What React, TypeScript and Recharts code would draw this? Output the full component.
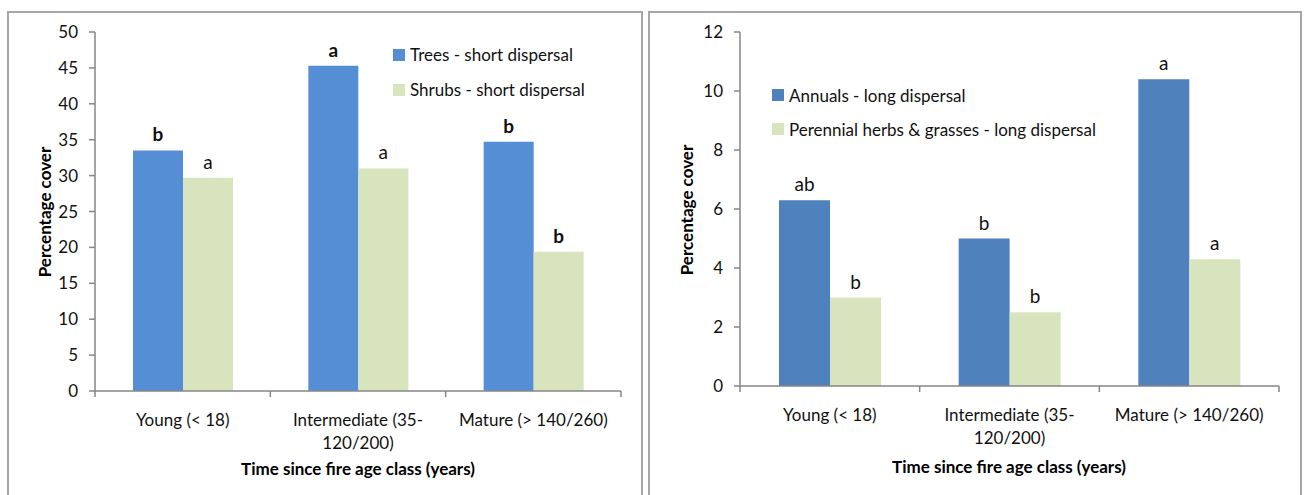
import React from "react";
import { BarChart, Bar, XAxis, YAxis, LabelList } from "recharts";

// age classes (x axis), split where the original wraps
const ageLabels = [["Young (< 18)"], ["Intermediate (35-", "120/200)"], ["Mature (> 140/260)"]];
const ageKeys = ["Young", "Intermediate", "Mature"];

// left panel: short dispersal
const treesShort = [33.5, 45.3, 34.7];
const shrubsShort = [29.7, 31.0, 19.4];
const treesLetters = ["b", "a", "b"];
const shrubsLetters = ["a", "a", "b"];
const treesBold = [true, true, true];
const shrubsBold = [false, false, true];
const shortTicks = [0, 5, 10, 15, 20, 25, 30, 35, 40, 45, 50];

// right panel: long dispersal
const annualsLong = [6.3, 5.0, 10.4];
const perennialLong = [3.0, 2.5, 4.3];
const annualsLetters = ["ab", "b", "a"];
const perennialLetters = ["b", "b", "a"];
const longTicks = [0, 2, 4, 6, 8, 10, 12];

const FONT = "Lato, 'Open Sans', sans-serif";
const AXIS = "#868686";
const TEXT = "#111";

const shortData = ageKeys.map((k, i) => ({ age: k, trees: treesShort[i], shrubs: shrubsShort[i] }));
const longData = ageKeys.map((k, i) => ({ age: k, annuals: annualsLong[i], perennial: perennialLong[i] }));

const CategoryTick = (props: any) => {
  const { x, y, payload, index, visibleTicksCount } = props;
  const half = payload.offset ?? 0;
  const lines = ageLabels[index] || [payload.value];
  const last = index === visibleTicksCount - 1;
  return (
    <g>
      <line x1={x - half} x2={x - half} y1={y} y2={y + 6} stroke={AXIS} strokeWidth={1.5} />
      {last && <line x1={x + half} x2={x + half} y1={y} y2={y + 6} stroke={AXIS} strokeWidth={1.5} />}
      {lines.map((l: string, i: number) => (
        <text key={i} x={x} y={y + 35 + i * 23} textAnchor="middle" fill={TEXT} fontSize={17} fontFamily={FONT}>
          {l}
        </text>
      ))}
    </g>
  );
};

const letterContent = (letters: string[], bold: boolean[] | null, size: number) => (p: any) => {
  const { x, y, width, index } = p;
  return (
    <text
      x={x + width / 2}
      y={y - 9}
      textAnchor="middle"
      fill={TEXT}
      fontSize={size}
      fontWeight={bold && bold[index] ? 700 : 400}
      fontFamily={FONT}
    >
      {letters[index]}
    </text>
  );
};

const ChartLegend = ({ items, left, top, gap }: { items: { label: string; color: string }[]; left: number; top: number; gap: number }) => (
  <div style={{ position: "absolute", left, top, fontFamily: FONT, fontSize: 17, color: TEXT, whiteSpace: "nowrap" }}>
    {items.map((it) => (
      <div key={it.label} style={{ display: "flex", alignItems: "center", height: gap }}>
        <span style={{ width: 12, height: 12, background: it.color, marginRight: 5, display: "inline-block" }} />
        <span>{it.label}</span>
      </div>
    ))}
  </div>
);

const panelStyle = (left: number, width: number): React.CSSProperties => ({
  position: "absolute",
  left,
  top: 11,
  width,
  height: 500,
  border: "2px solid #a6a6a6",
  boxSizing: "border-box",
});

const titleStyle: React.CSSProperties = {
  position: "absolute",
  fontFamily: FONT,
  fontWeight: 700,
  fontSize: 17,
  color: "#000",
  whiteSpace: "nowrap",
};

const yTick = { fill: TEXT, fontSize: 17, fontFamily: FONT };

export default function App() {
  return (
    <div style={{ position: "fixed", left: 0, top: 0, width: 1304, height: 495, background: "#fff", overflow: "hidden" }}>
      <div style={panelStyle(7, 636)} />
      <div style={panelStyle(648, 654)} />

      <div style={{ position: "absolute", left: 0, top: 0 }}>
        <BarChart width={650} height={495} data={shortData} margin={{ top: 32, right: 29, bottom: 74, left: 35 }} barGap={0} barSize={50}>
          <XAxis dataKey="age" height={30} axisLine={{ stroke: AXIS, strokeWidth: 1.5 }} tickLine={false} tickSize={0} tickMargin={0} tick={<CategoryTick />} interval={0} />
          <YAxis
            width={60}
            domain={[0, 50]}
            ticks={shortTicks}
            interval={0}
            axisLine={{ stroke: AXIS, strokeWidth: 1.5 }}
            tickLine={{ stroke: AXIS, strokeWidth: 1.5 }}
            tickSize={6}
            tickMargin={11}
            tick={yTick}
          />
          <Bar dataKey="trees" fill="#558ED5" isAnimationActive={false}>
            <LabelList content={letterContent(treesLetters, treesBold, 19)} />
          </Bar>
          <Bar dataKey="shrubs" fill="#D7E4BD" isAnimationActive={false}>
            <LabelList content={letterContent(shrubsLetters, shrubsBold, 19)} />
          </Bar>
        </BarChart>
        <ChartLegend
          left={393}
          top={37}
          gap={35}
          items={[
            { label: "Trees - short dispersal", color: "#558ED5" },
            { label: "Shrubs - short dispersal", color: "#D7E4BD" },
          ]}
        />
        <div style={{ ...titleStyle, left: 44, top: 212, transform: "translate(-50%, -50%) rotate(-90deg)" }}>Percentage cover</div>
        <div style={{ ...titleStyle, left: 358, top: 468, transform: "translate(-50%, -50%)" }}>Time since fire age class (years)</div>
      </div>

      <div style={{ position: "absolute", left: 650, top: 0 }}>
        <BarChart width={654} height={495} data={longData} margin={{ top: 32, right: 25, bottom: 79, left: 30 }} barGap={0} barSize={51}>
          <XAxis dataKey="age" height={30} axisLine={{ stroke: AXIS, strokeWidth: 1.5 }} tickLine={false} tickSize={0} tickMargin={0} tick={<CategoryTick />} interval={0} />
          <YAxis
            width={60}
            domain={[0, 12]}
            ticks={longTicks}
            interval={0}
            axisLine={{ stroke: AXIS, strokeWidth: 1.5 }}
            tickLine={{ stroke: AXIS, strokeWidth: 1.5 }}
            tickSize={6}
            tickMargin={11}
            tick={yTick}
          />
          <Bar dataKey="annuals" fill="#4F81BD" isAnimationActive={false}>
            <LabelList content={letterContent(annualsLetters, null, 19)} />
          </Bar>
          <Bar dataKey="perennial" fill="#D7E4BD" isAnimationActive={false}>
            <LabelList content={letterContent(perennialLetters, null, 19)} />
          </Bar>
        </BarChart>
        <ChartLegend
          left={122}
          top={78}
          gap={34}
          items={[
            { label: "Annuals - long dispersal", color: "#4F81BD" },
            { label: "Perennial herbs & grasses - long dispersal", color: "#D7E4BD" },
          ]}
        />
        <div style={{ ...titleStyle, left: 36, top: 210, transform: "translate(-50%, -50%) rotate(-90deg)" }}>Percentage cover</div>
        <div style={{ ...titleStyle, left: 359, top: 466, transform: "translate(-50%, -50%)" }}>Time since fire age class (years)</div>
      </div>
    </div>
  );
}
